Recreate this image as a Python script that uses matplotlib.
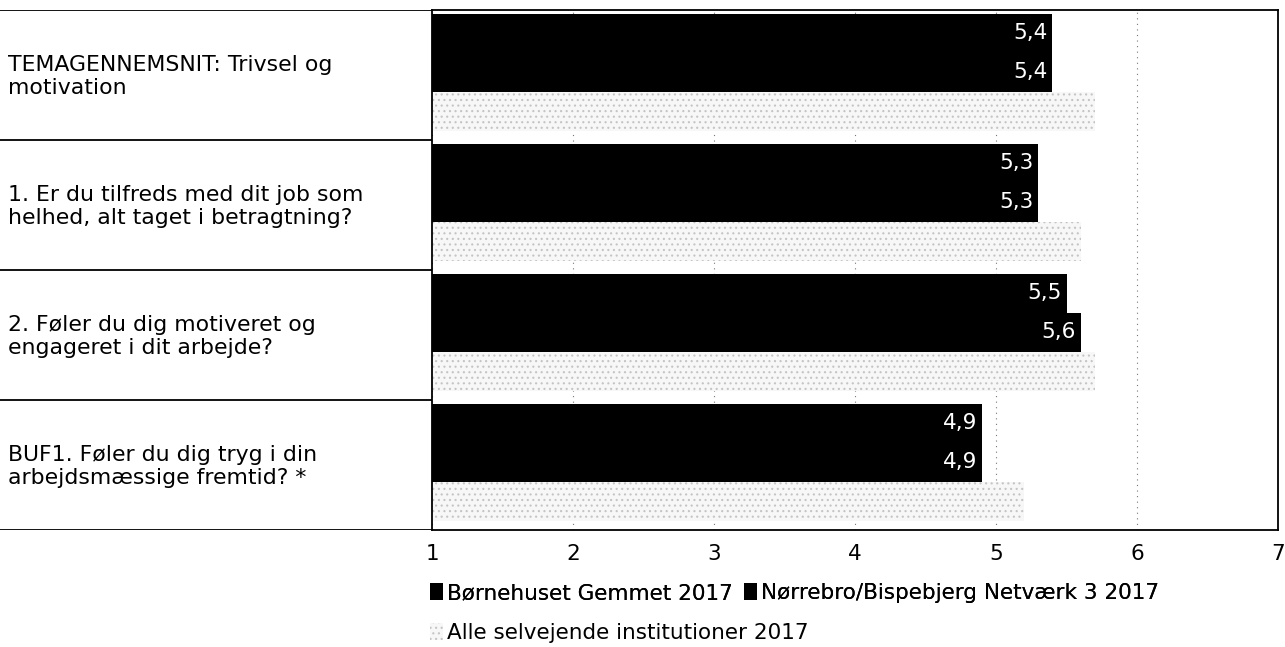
import numpy as np
import matplotlib
matplotlib.use("Agg")
import matplotlib.pyplot as plt

questions = [
    "TEMAGENNEMSNIT: Trivsel og\nmotivation",
    "1. Er du tilfreds med dit job som\nhelhed, alt taget i betragtning?",
    "2. Føler du dig motiveret og\nengageret i dit arbejde?",
    "BUF1. Føler du dig tryg i din\narbejdsmæssige fremtid? *",
]
series_names = [
    "Børnehuset Gemmet 2017",
    "Nørrebro/Bispebjerg Netværk 3 2017",
    "Alle selvejende institutioner 2017",
]
gemmet = [5.4, 5.3, 5.5, 4.9]
netvaerk = [5.4, 5.3, 5.6, 4.9]
alle = [5.7, 5.6, 5.7, 5.2]
x_ticks = [1, 2, 3, 4, 5, 6, 7]

plt.rcParams["font.family"] = ["DejaVu Sans"]
plt.rcParams["hatch.color"] = "#c4c4c4"
plt.rcParams["hatch.linewidth"] = 0.8

W, H = 1285, 647
fig = plt.figure(figsize=(W / 100, H / 100), dpi=100)

top = 1 - 10 / H
bottom = 1 - 530 / H
x0 = 432 / W
x1 = 1278 / W

ax = fig.add_axes([x0, bottom, x1 - x0, top - bottom])
lab = fig.add_axes([0, bottom, x0, top - bottom])

y = np.arange(len(questions))
h = 0.3
fs = 15.5

b1 = ax.barh(y - h - 0.02, np.array(gemmet) - 1, left=1, height=h, color="black")
b2 = ax.barh(y - 0.02, np.array(netvaerk) - 1, left=1, height=h, color="black")
b3 = ax.barh(y + h - 0.02, np.array(alle) - 1, left=1, height=h, facecolor="#f7f7f7",
             edgecolor="#c4c4c4", hatch="...", linewidth=0)

for bars, vals in [(b1, gemmet), (b2, netvaerk)]:
    for rect, v in zip(bars, vals):
        ax.annotate(f"{v:.1f}".replace(".", ","),
                    (rect.get_x() + rect.get_width(), rect.get_y() + rect.get_height() / 2),
                    xytext=(-3.5, 0), textcoords="offset points",
                    ha="right", va="center", color="white", fontsize=fs)

ax.set_xlim(1, 7)
ax.set_ylim(len(questions) - 0.5, -0.5)
ax.set_yticks([])
ax.set_xticks(x_ticks)
ax.tick_params(axis="x", length=0, pad=10, labelsize=fs)
ax.grid(axis="x", linestyle=(0, (1, 4)), color="#777777", linewidth=0.8)
ax.set_axisbelow(True)
for s in ax.spines.values():
    s.set_linewidth(1.3)

# label column
lab.set_xlim(0, 1)
lab.set_ylim(len(questions) - 0.5, -0.5)
lab.axis("off")
for yy in np.arange(-0.5, len(questions), 1.0):
    lab.axhline(yy, color="black", linewidth=1.3)
for yy, q in zip(y, questions):
    lab.text(8 / 432, yy + 0.01, q, ha="left", va="center", fontsize=15.8, linespacing=1.2)

leg1 = fig.legend([b1, b2], series_names[:2], loc="center left",
                  bbox_to_anchor=(430 / W, 1 - 593 / H), ncol=2, frameon=False,
                  fontsize=fs, handlelength=0.6, handleheight=0.8, handletextpad=0.2,
                  columnspacing=0.5, borderpad=0, borderaxespad=0)
fig.add_artist(leg1)
fig.legend([b3], series_names[2:], loc="center left",
           bbox_to_anchor=(430 / W, 1 - 633 / H), frameon=False,
           fontsize=fs, handlelength=0.6, handleheight=0.8, handletextpad=0.2,
           borderpad=0, borderaxespad=0)

fig.savefig("out.png", dpi=100)
